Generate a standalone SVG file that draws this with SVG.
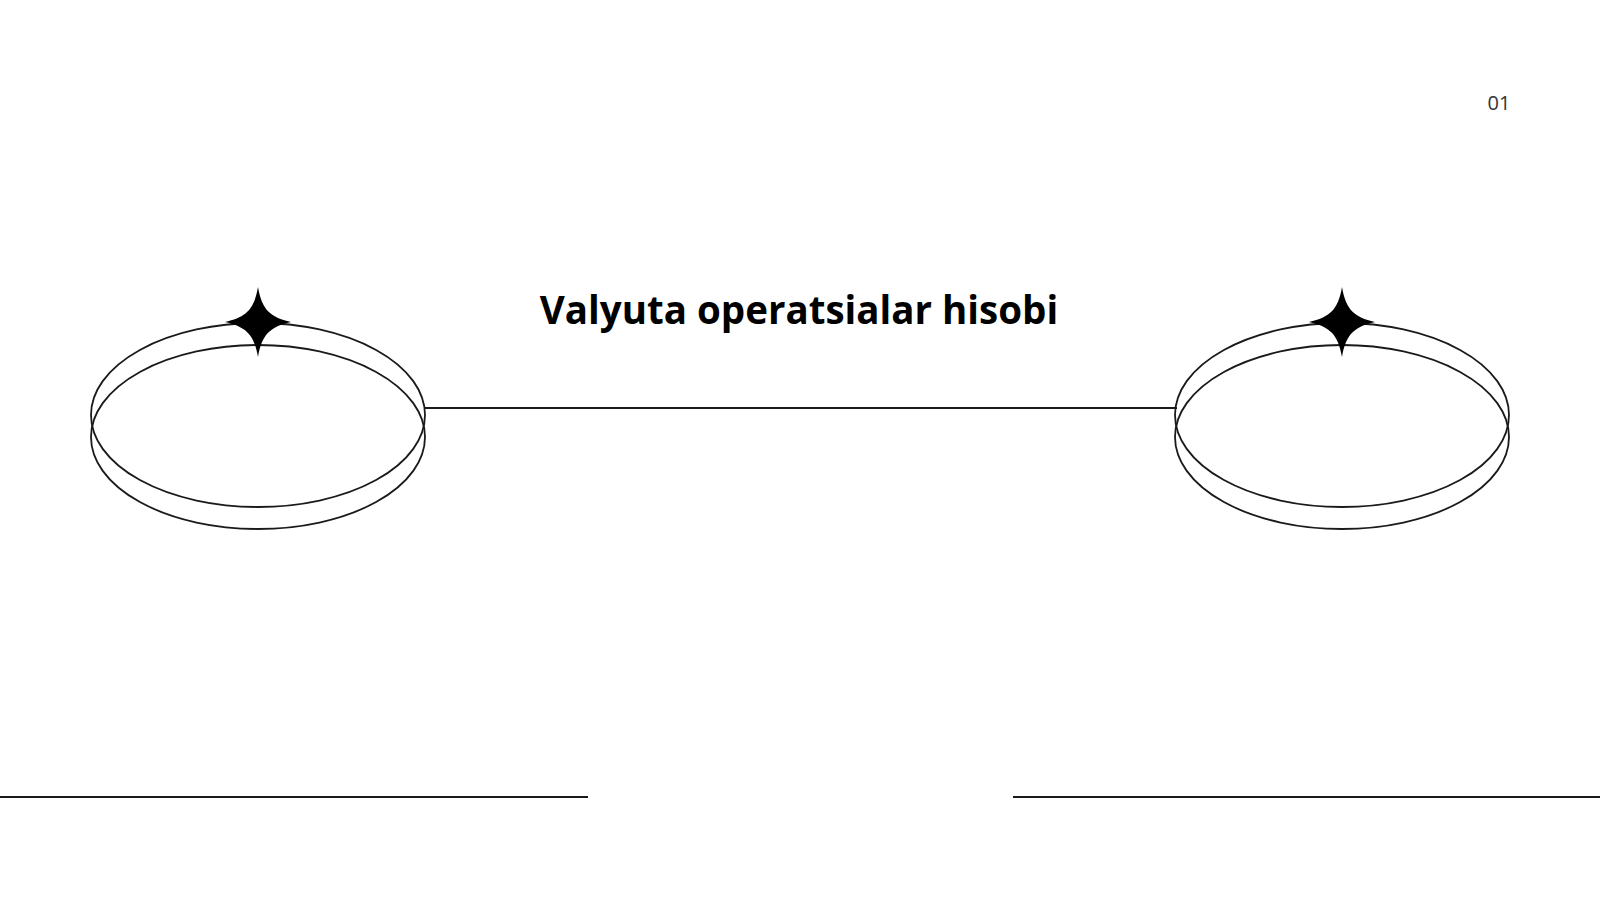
<svg xmlns="http://www.w3.org/2000/svg" width="1600" height="900" viewBox="0 0 1600 900">
<style>
.e{fill:none;stroke:#1a1a1a;stroke-width:1.8}
.l{stroke:#1a1a1a;stroke-width:2}
</style>
<defs>
<path id="star" d="M0,-35 C4,-12 12,-5 33,0 C12,5 4,12 0,35 C-4,12 -12,5 -33,0 C-12,-5 -4,-12 0,-35Z" fill="#000"/>
</defs>
<rect width="1600" height="900" fill="#fff"/>
<g id="connectors">
<line class="l" x1="425" y1="408" x2="1177" y2="408"/>
<line class="l" x1="0" y1="797" x2="588" y2="797"/>
<line class="l" x1="1013" y1="797" x2="1600" y2="797"/>
</g>
<g id="node-left">
<ellipse class="e" cx="258" cy="415" rx="167" ry="92"/>
<ellipse class="e" cx="258" cy="437" rx="167" ry="92"/>
<use href="#star" x="258" y="322"/>
</g>
<g id="node-right">
<ellipse class="e" cx="1342" cy="415" rx="167" ry="92"/>
<ellipse class="e" cx="1342" cy="437" rx="167" ry="92"/>
<use href="#star" x="1342" y="322"/>
</g>
<text x="799" y="324" text-anchor="middle" font-family="Open Sans, sans-serif" font-weight="bold" font-size="38.5" fill="#000">Valyuta operatsialar hisobi</text>
<text x="1499" y="110" text-anchor="middle" font-family="Open Sans, sans-serif" font-size="20" fill="#333">01</text>
</svg>
